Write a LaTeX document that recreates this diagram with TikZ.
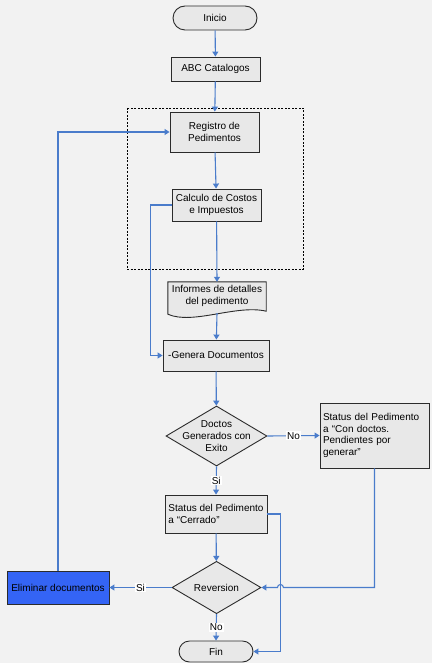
\documentclass[tikz,border=0pt]{standalone}
\usepackage{fontspec}
\setmainfont{Liberation Sans}
\usepackage{tikz}
\usetikzlibrary{calc,arrows.meta,shapes.geometric,shapes.misc}
\definecolor{paper}{HTML}{F2F2F2}
\definecolor{boxfill}{HTML}{E8E8E8}
\definecolor{edge}{HTML}{2B2B2B}
\definecolor{flow}{HTML}{4A7CCB}
\definecolor{delblue}{HTML}{3464F5}
\tikzset{
  every node/.style={font=\fontsize{10}{11.8}\selectfont},
  procbox/.style={rectangle, draw=edge, fill=boxfill, line width=0.9pt, align=center, inner sep=2pt},
  leftbox/.style={procbox, align=left, inner xsep=3pt},
  termbox/.style={rounded rectangle, draw=edge, fill=boxfill, line width=0.9pt, inner sep=2pt},
  decision/.style={diamond, draw=edge, fill=boxfill, line width=0.9pt, inner sep=0pt},
  docshape/.style={draw=edge, fill=boxfill, line width=0.9pt},
  frame/.style={draw=black, line width=0.8pt, dash pattern=on 2pt off 1.5pt},
  flowline/.style={draw=flow, line width=1.1pt, -{Triangle[length=5pt,width=6pt]}},
  elab/.style={fill=white, inner sep=1pt},
}

\begin{document}
\begin{tikzpicture}[x=1pt,y=-1pt]
  \useasboundingbox[fill=paper] (0,0) rectangle (432,663);
  % grupo de registro y calculo
  \draw[frame] (127,108) rectangle (303,269);
  \node[termbox, minimum width=88pt, minimum height=24pt] (inicio) at (215,18) {Inicio};
  \node[procbox, minimum width=89pt, minimum height=24pt] (abc) at (215.5,69) {ABC Catalogos};
  \node[procbox, minimum width=89pt, minimum height=40pt] (reg) at (214.5,132) {Registro de\\Pedimentos};
  \node[procbox, minimum width=89pt, minimum height=32pt] (calc) at (216.5,205) {Calculo de Costos\\e Impuestos};
  % documento con borde ondulado
  \node[minimum width=98pt, minimum height=28pt, align=center, inner sep=0pt] (inf) at (217,296) {};
  \draw[docshape] (inf.north west) -- (inf.north east) -- ($(inf.south east)+(0,1)$)
    .. controls ($(inf.south east)+(-30,-6)$) and ($(inf.south west)+(25,15)$) .. ($(inf.south west)+(0,4)$) -- cycle;
  \node[align=center] at (inf) {Informes de detalles\\del pedimento};
  \node[procbox, minimum width=106pt, minimum height=31pt] (gen) at (216,355.5) {-Genera Documentos};
  \node[decision, minimum width=101pt, minimum height=60pt,
    label={[align=center]center:Doctos\\Generados con\\Exito}] (doctos) at (216.5,436) {};
  \node[leftbox, text width=103pt, minimum height=65pt] (pend) at (374.5,435.5)
    {Status del Pedimento\\a “Con doctos.\\Pendientes por\\generar”};
  \node[leftbox, minimum width=102pt, minimum height=38pt] (cerr) at (216,514) {Status del Pedimento\\a “Cerrado”};
  \node[decision, minimum width=89pt, minimum height=47pt] (rev) at (216.5,587.5) {Reversion};
  \node[procbox, fill=delblue, minimum width=102pt, minimum height=33pt] (elim) at (58,587.5) {Eliminar documentos};
  \node[termbox, minimum width=78pt, minimum height=21pt] (fin) at (216,651.5) {Fin};
  \coordinate (jog) at ($(cerr.east)+(13,0)$);

  \draw[flowline] (inicio) -- (abc);
  \draw[flowline] (abc) -- (reg);
  \draw[flowline] (reg) -- (calc);
  \draw[flowline] (calc) -- (inf.north);
  \draw[flowline] ($(inf.south)+(0,3)$) -- (gen);
  \draw[flowline] (calc.west) -- ++(-21,0) |- (gen.west);
  \draw[flowline] (gen) -- (doctos);
  \draw[flowline] (doctos.east) -- node[elab] {No} (pend.west);
  \draw[flowline] (doctos.south) -- node[elab] {Si} (cerr.north);
  \draw[flowline] (cerr) -- (rev);
  \draw[flowline] (rev.west) -- node[elab] {Si} (elim.east);
  \draw[flowline] (rev.south) -- node[elab] {No} (fin.north);
  \draw[flowline] (elim.north) |- (reg.west);
  \draw[flowline] (cerr.east) -- (jog) |- (fin.east);
  % salto sobre la linea de cierre
  \draw[flowline] (pend.south) |- ($(jog |- rev.east)+(3,0)$)
    arc[start angle=0, end angle=180, radius=3pt] -- (rev.east);
\end{tikzpicture}
\end{document}
